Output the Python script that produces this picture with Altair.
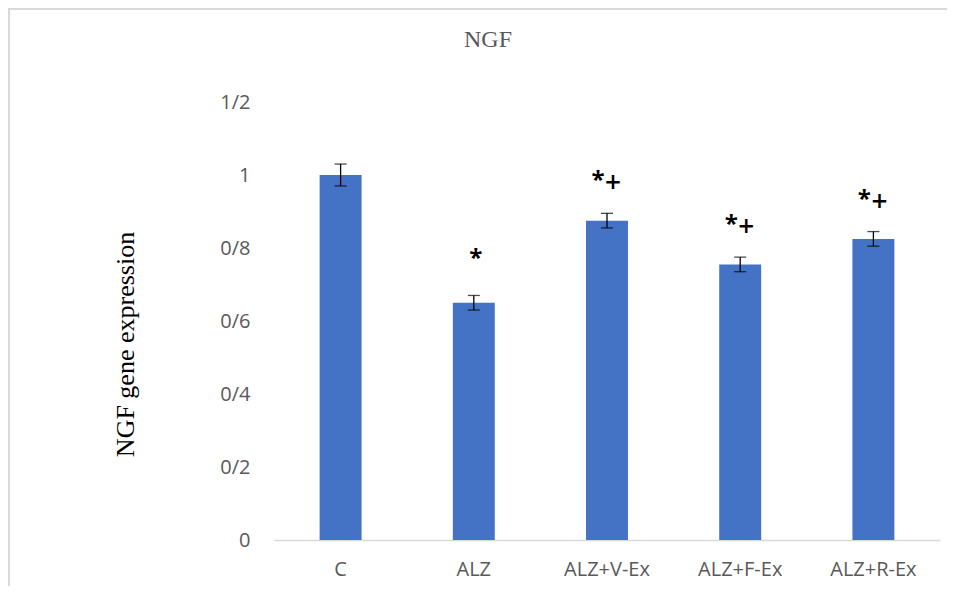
import altair as alt
import pandas as pd

categories = ["C", "ALZ", "ALZ+V-Ex", "ALZ+F-Ex", "ALZ+R-Ex"]
means = [1.0, 0.65, 0.875, 0.755, 0.825]
errors = [0.03, 0.02, 0.02, 0.02, 0.02]
signif = ["", "*", "*+", "*+", "*+"]
y_ticks = [0, 0.2, 0.4, 0.6, 0.8, 1.0, 1.2]
y_tick_labels = ["0", "0/2", "0/4", "0/6", "0/8", "1", "1/2"]

df = pd.DataFrame({
    "cat": categories,
    "mean": means,
    "lo": [m - e for m, e in zip(means, errors)],
    "hi": [m + e for m, e in zip(means, errors)],
    "sig": signif,
})

# label expression from tick lists
expr = "''"
for t, lab in reversed(list(zip(y_ticks, y_tick_labels))):
    expr = f"datum.value < {t + 0.1:.2f} ? '{lab}' : ({expr})"

GRAY = "#595959"
SANS = "Open Sans"
SERIF = "Liberation Serif"

x_enc = alt.X("cat:N", sort=categories,
              scale=alt.Scale(paddingInner=0.685, paddingOuter=0.3425),
              axis=alt.Axis(title=None, labelAngle=0, labelFont=SANS, labelFontSize=20,
                            labelColor=GRAY, labelPadding=19, ticks=False,
                            domainColor="#d9d9d9", domainWidth=1.5))
y_scale = alt.Scale(domain=[0, 1.2], nice=False)
xs = alt.X("cat:N", sort=categories)

base = alt.Chart(df)

bars = base.mark_bar(color="#4472C4").encode(
    x=x_enc,
    y=alt.Y("mean:Q", scale=y_scale,
            axis=alt.Axis(values=y_ticks, labelExpr=expr, title="NGF gene expression",
                          titleFont=SERIF, titleFontSize=26, titleFontWeight="normal",
                          titleColor="black", titleAngle=270, titleX=-149, titleY=242,
                          titleAlign="center", titleBaseline="middle",
                          labelFont=SANS, labelFontSize=20, labelColor=GRAY,
                          labelPadding=24, ticks=False, domain=False, grid=False)),
)

err = base.mark_rule(color="black", strokeWidth=1.3).encode(
    x=xs, y=alt.Y("lo:Q", scale=y_scale), y2="hi:Q")
cap_lo = base.mark_tick(color="black", size=12, thickness=1.3, orient="horizontal").encode(
    x=xs, y=alt.Y("lo:Q", scale=y_scale))
cap_hi = base.mark_tick(color="black", size=12, thickness=1.3, orient="horizontal").encode(
    x=xs, y=alt.Y("hi:Q", scale=y_scale))

# "*" alone (centered)
star_only = base.transform_filter("datum.sig == '*'").mark_text(
    font=SANS, fontSize=24, fontWeight="bold", color="black",
    baseline="alphabetic", dy=-29, dx=2).encode(
    x=xs, y=alt.Y("hi:Q", scale=y_scale), text=alt.value("*"))
# "*" and "+" pairs
star_pair = base.transform_filter("datum.sig == '*+'").mark_text(
    font=SANS, fontSize=24, fontWeight="bold", color="black",
    baseline="alphabetic", dy=-25, dx=-9).encode(
    x=xs, y=alt.Y("hi:Q", scale=y_scale), text=alt.value("*"))
plus_pair = base.transform_filter("datum.sig == '*+'").mark_text(
    font=SANS, fontSize=28, fontWeight=600, color="black",
    baseline="alphabetic", dy=-21, dx=6).encode(
    x=xs, y=alt.Y("hi:Q", scale=y_scale), text=alt.value("+"))

border_left = alt.Chart(df).mark_rule(color="#d9d9d9", strokeWidth=2).encode(
    x=alt.value(-265), y=alt.value(-94), y2=alt.value(500))
border_top = alt.Chart(df).mark_rule(color="#d9d9d9", strokeWidth=2).encode(
    x=alt.value(-266), x2=alt.value(700), y=alt.value(-93))

chart = alt.layer(border_left, border_top, bars, err, cap_lo, cap_hi,
                  star_only, star_pair, plus_pair).properties(
    width=666, height=438,
    title=alt.TitleParams("NGF", font=SERIF, fontSize=24, fontWeight="normal",
                          color=GRAY, dx=-119, offset=-45, anchor="middle"),
    autosize=alt.AutoSizeParams(type="none"),
    padding={"left": 266, "top": 94, "right": 7, "bottom": 46},
).configure_view(stroke=None).configure_axis(grid=False)

chart.save("out.html", embed_options={"renderer": "svg", "actions": False})
